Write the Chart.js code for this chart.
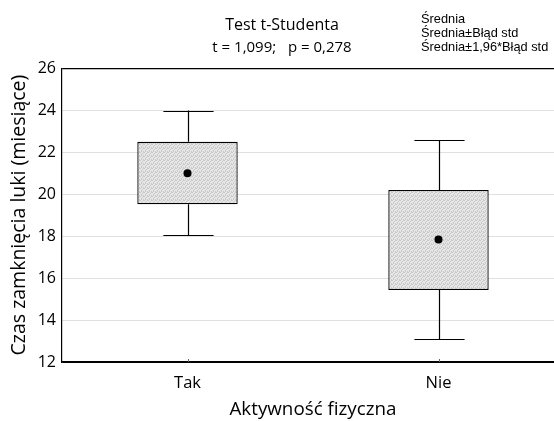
<!DOCTYPE html>
<html>
<head>
<meta charset="utf-8">
<script src="https://cdn.jsdelivr.net/npm/chart.js@4/dist/chart.umd.min.js"></script>
<style>
  html, body { margin: 0; padding: 0; background: #fff; overflow: hidden; }
  /* the plot area runs past the right edge of the visible frame */
  #wrap { position: relative; width: 554px; height: 421px; overflow: hidden; }
  #c { position: absolute; left: 0; top: 0; }
</style>
</head>
<body>
<div id="wrap"><canvas id="c" width="600" height="421"></canvas></div>
<script>
// Groups and summary statistics (months)
const categories = ['Tak', 'Nie'];
const means = [21.0, 17.84];
const seLow = [19.52, 15.43];
const seHigh = [22.49, 20.2];
const ciLow = [18.05, 13.08];
const ciHigh = [23.98, 22.57];

const yTicks = [12, 14, 16, 18, 20, 22, 24, 26];
const titleText = 'Test t-Studenta';
const subtitleText = 't = 1,099;   p = 0,278';
const legendLabels = ['Średnia', 'Średnia±Błąd std', 'Średnia±1,96*Błąd std'];
const yTitle = 'Czas zamknięcia luki (miesiące)';
const xTitle = 'Aktywność fizyczna';

// Stippled grey fill for the boxes
function stipple() {
  const p = document.createElement('canvas');
  p.width = 4; p.height = 4;
  const g = p.getContext('2d');
  g.fillStyle = '#e6e6e6';
  g.fillRect(0, 0, 4, 4);
  g.fillStyle = '#c9c9c9';
  [[0,0],[2,1],[1,2],[3,3],[3,0],[1,3]].forEach(([x, y]) => g.fillRect(x, y, 1, 1));
  return g.createPattern(p, 'repeat');
}

// Whiskers (mean ± 1.96 SE) with caps, small inward ticks on the x axis, text legend
const whiskers = {
  id: 'whiskers',
  afterDatasetsDraw(chart) {
    const {ctx, scales: {x, y}} = chart;
    const meta = chart.getDatasetMeta(0);
    ctx.save();
    ctx.strokeStyle = '#000';
    ctx.lineWidth = 1.2;
    categories.forEach((c, i) => {
      const cx = Math.round(x.getPixelForValue(i)) + 0.5;
      const half = meta.data[i].width / 4;
      const segs = [[ciHigh[i], seHigh[i]], [seLow[i], ciLow[i]]];
      ctx.beginPath();
      segs.forEach(([a, b]) => {
        ctx.moveTo(cx, y.getPixelForValue(a));
        ctx.lineTo(cx, y.getPixelForValue(b));
      });
      [ciHigh[i], ciLow[i]].forEach(v => {
        const py = Math.round(y.getPixelForValue(v)) + 0.5;
        ctx.moveTo(cx - half, py);
        ctx.lineTo(cx + half, py);
      });
      ctx.stroke();
    });
    ctx.strokeStyle = '#666';
    ctx.lineWidth = 1;
    ctx.beginPath();
    categories.forEach((c, i) => {
      const cx = Math.round(x.getPixelForValue(i)) + 0.5;
      ctx.moveTo(cx, y.bottom);
      ctx.lineTo(cx, y.bottom - 3);
    });
    ctx.stroke();
    ctx.restore();
  },
  afterDraw(chart) {
    const {ctx} = chart;
    ctx.save();
    ctx.fillStyle = '#000';
    ctx.font = '12.8px "Liberation Sans", Arial, sans-serif';
    ctx.textBaseline = 'middle';
    ctx.textAlign = 'left';
    legendLabels.forEach((t, i) => ctx.fillText(t, 421, 19 + i * 14.2));
    ctx.restore();
  }
};

const fontFamily = '"Open Sans", Lato, sans-serif';

new Chart(document.getElementById('c'), {
  type: 'bar',
  data: {
    labels: categories,
    datasets: [
      {
        type: 'bar',
        data: categories.map((c, i) => [seLow[i], seHigh[i]]),
        backgroundColor: stipple(),
        borderColor: '#000',
        borderWidth: 1.3,
        borderSkipped: false,
        categoryPercentage: 1,
        barPercentage: 0.4,
        order: 2
      },
      {
        type: 'line',
        data: means,
        showLine: false,
        pointRadius: 4,
        pointBackgroundColor: '#000',
        pointBorderColor: '#000',
        pointBorderWidth: 0,
        order: 1
      }
    ]
  },
  options: {
    responsive: false,
    animation: false,
    devicePixelRatio: 1,
    layout: { padding: { left: 0, top: 0, bottom: 0, right: 36 } },
    plugins: {
      legend: { display: false },
      tooltip: { enabled: false },
      title: {
        display: true,
        text: titleText,
        color: '#000',
        font: { family: fontFamily, size: 16, weight: 'normal', lineHeight: 1.2 },
        padding: { top: 16, bottom: 0 }
      },
      subtitle: {
        display: true,
        text: subtitleText,
        color: '#000',
        font: { family: fontFamily, size: 15, weight: 'normal', lineHeight: 1.2 },
        padding: { top: 4, bottom: 11 }
      }
    },
    scales: {
      x: {
        type: 'category',
        offset: true,
        grid: { display: false },
        border: { display: true, color: '#000', width: 1.2 },
        ticks: { color: '#000', font: { family: fontFamily, size: 16.5 }, padding: 3 },
        title: {
          display: true,
          text: xTitle,
          color: '#000',
          font: { family: fontFamily, size: 18.8 },
          padding: { top: 0, bottom: 0 }
        },
        afterFit(s) { s.height = 59; }
      },
      y: {
        min: 12,
        max: 26,
        afterBuildTicks(s) { s.ticks = yTicks.map(v => ({ value: v })); },
        grid: {
          drawTicks: false,
          color: ctx => (ctx.tick && (ctx.tick.value === 26 || ctx.tick.value === 12)) ? '#000' : '#e0e0e0',
          lineWidth: ctx => (ctx.tick && ctx.tick.value === 26) ? 1.2 : 1
        },
        border: { display: true, color: '#000', width: 1.2 },
        ticks: { color: '#000', font: { family: fontFamily, size: 16 }, padding: 6 },
        title: {
          display: true,
          text: yTitle,
          color: '#000',
          font: { family: fontFamily, size: 19.5 },
          padding: { top: 8, bottom: 0 }
        },
        afterFit(s) { s.width = 62; }
      }
    }
  },
  plugins: [whiskers]
});
</script>
</body>
</html>
